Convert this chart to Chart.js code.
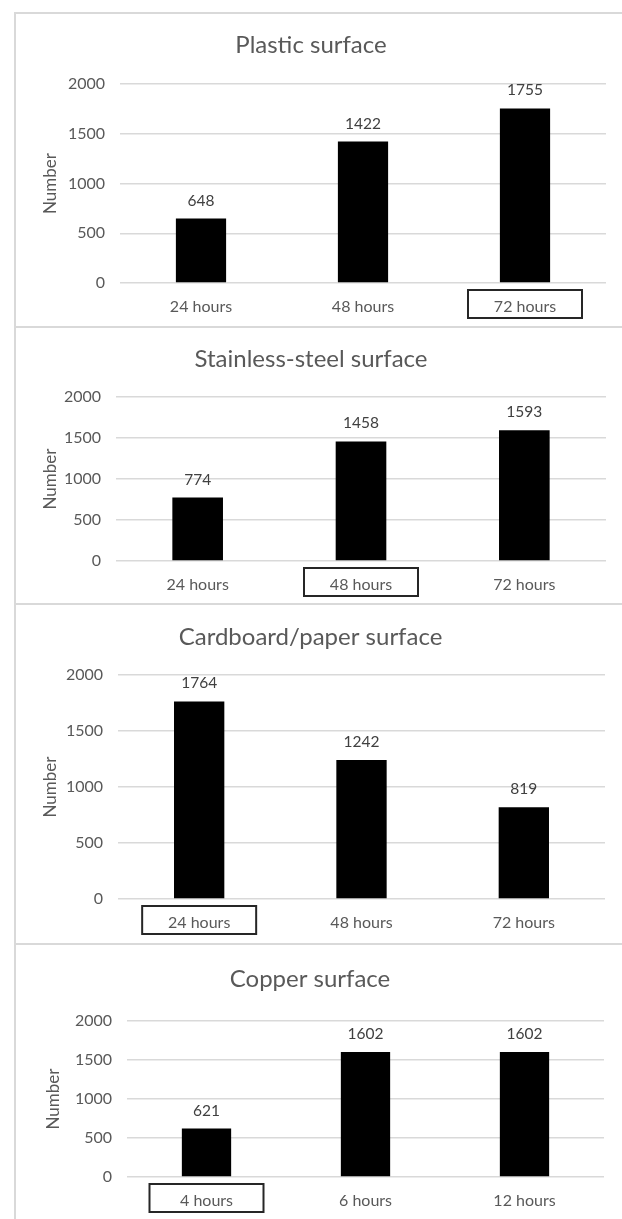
<!DOCTYPE html>
<html>
<head>
  <title>Surface charts</title>
  <script src="https://cdn.jsdelivr.net/npm/chart.js"></script>
  <style>
    body { margin: 0; background: #fff; }
    #page { position: relative; width: 622px; height: 1219px; overflow: hidden; }
    .rule { position: absolute; background: #d9d9d9; }
    canvas { position: absolute; }
  </style>
</head>
<body>
<div id="page">
  <div class="rule" style="left:14px;top:12px;width:608px;height:2px"></div>
  <div class="rule" style="left:14px;top:12px;width:2px;height:1207px"></div>
  <div class="rule" style="left:14px;top:326px;width:608px;height:2px"></div>
  <div class="rule" style="left:14px;top:603px;width:608px;height:2px"></div>
  <div class="rule" style="left:14px;top:943px;width:608px;height:2px"></div>

  <canvas id="c1" width="606" height="312" style="left:16px;top:14px"></canvas>
  <canvas id="c2" width="606" height="275" style="left:16px;top:328px"></canvas>
  <canvas id="c3" width="606" height="338" style="left:16px;top:605px"></canvas>
  <canvas id="c4" width="606" height="274" style="left:16px;top:945px"></canvas>
</div>

<script>
  // values
  const plasticLabels = ['24 hours', '48 hours', '72 hours'];
  const plasticValues = [648, 1422, 1755];
  const plasticBoxed = 2;

  const steelLabels = ['24 hours', '48 hours', '72 hours'];
  const steelValues = [774, 1458, 1593];
  const steelBoxed = 1;

  const paperLabels = ['24 hours', '48 hours', '72 hours'];
  const paperValues = [1764, 1242, 819];
  const paperBoxed = 0;

  const copperLabels = ['4 hours', '6 hours', '12 hours'];
  const copperValues = [621, 1602, 1602];
  const copperBoxed = 0;

  const yMin = 0, yMax = 2000, yStep = 500;

  Chart.defaults.font.family = 'Lato, "Open Sans", sans-serif';
  Chart.defaults.color = '#595959';

  // numbers above the bars
  const valueLabels = {
    id: 'valueLabels',
    afterDatasetsDraw(chart) {
      const ctx = chart.ctx;
      const ds = chart.data.datasets[0];
      ctx.save();
      ctx.font = '15.5px Lato, "Open Sans", sans-serif';
      ctx.fillStyle = '#404040';
      ctx.textAlign = 'center';
      ctx.textBaseline = 'middle';
      chart.getDatasetMeta(0).data.forEach((bar, i) => {
        ctx.fillText(ds.data[i], bar.x, bar.y - 18);
      });
      ctx.restore();
    }
  };

  // black frame around one category label
  const labelBox = {
    id: 'labelBox',
    afterDraw(chart, args, opts) {
      const ctx = chart.ctx;
      const x = chart.scales.x.getPixelForTick(opts.index);
      const y = chart.chartArea.bottom + 21;
      ctx.save();
      ctx.strokeStyle = '#262626';
      ctx.lineWidth = 2;
      ctx.strokeRect(x - 57, y - 14, 114, 28);
      ctx.restore();
    }
  };

  // g: page coordinates of the plot box for each panel
  function makeChart(id, title, labels, values, boxed, g) {
    const canvas = document.getElementById(id);
    const top = parseFloat(canvas.style.top);
    const left = 16;
    const titleLine = 24 * 1.2;
    const titlePadTop = (g.titleY - top) - titleLine / 2;
    const titlePadBottom = (g.areaTop - top) - titlePadTop - titleLine;

    return new Chart(canvas, {
      type: 'bar',
      data: {
        labels: labels,
        datasets: [{
          data: values,
          backgroundColor: '#000000',
          borderWidth: 0,
          categoryPercentage: 1,
          barPercentage: 0.31
        }]
      },
      options: {
        responsive: false,
        animation: false,
        layout: { padding: { left: 0, top: 0, right: canvas.width - (g.areaRight - left), bottom: 0 } },
        scales: {
          x: {
            grid: { display: false },
            border: { display: false },
            ticks: { font: { size: 16 }, color: '#595959', padding: 6 },
            afterFit(scale) { scale.height = canvas.height - (g.areaBottom - top); }
          },
          y: {
            min: yMin,
            max: yMax,
            ticks: {
              stepSize: yStep,
              font: { size: 16 },
              color: '#595959',
              padding: 15,
              callback: (v) => String(v)
            },
            grid: { color: '#d9d9d9', lineWidth: 1.5, drawTicks: false },
            border: { display: false },
            title: {
              display: true,
              text: 'Number',
              font: { size: 17 },
              color: '#595959',
              padding: { top: g.numberX - left - 10.2, bottom: 0 }
            },
            afterFit(scale) { scale.width = g.areaLeft - left; }
          }
        },
        plugins: {
          legend: { display: false },
          tooltip: { enabled: false },
          title: {
            display: true,
            text: title,
            font: { size: 24, weight: 'normal' },
            color: '#595959',
            padding: { top: titlePadTop, bottom: titlePadBottom }
          },
          labelBox: { index: boxed }
        }
      },
      plugins: [valueLabels, labelBox]
    });
  }

  makeChart('c1', 'Plastic surface', plasticLabels, plasticValues, plasticBoxed,
    { areaLeft: 120, areaRight: 606, areaTop: 84, areaBottom: 283, titleY: 45, numberX: 51 });
  makeChart('c2', 'Stainless-steel surface', steelLabels, steelValues, steelBoxed,
    { areaLeft: 116, areaRight: 606, areaTop: 397, areaBottom: 561, titleY: 359, numberX: 51 });
  makeChart('c3', 'Cardboard/paper surface', paperLabels, paperValues, paperBoxed,
    { areaLeft: 118, areaRight: 605, areaTop: 675, areaBottom: 899, titleY: 637, numberX: 51 });
  makeChart('c4', 'Copper surface', copperLabels, copperValues, copperBoxed,
    { areaLeft: 127, areaRight: 604, areaTop: 1021, areaBottom: 1177, titleY: 979, numberX: 54 });
</script>
</body>
</html>
